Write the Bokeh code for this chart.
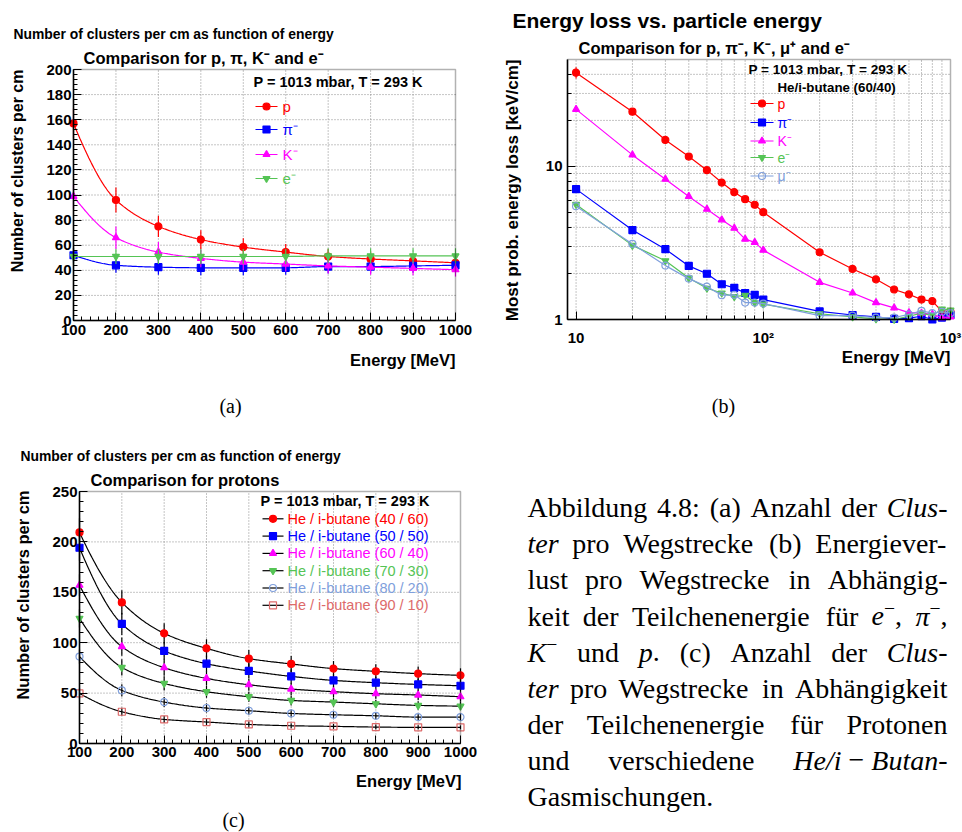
import numpy as np
from bokeh.plotting import figure
from bokeh.models import (Range1d, Label, FixedTicker, SingleIntervalTicker, LinearAxis,
                          LogAxis, BoxAnnotation)
from bokeh.layouts import column, row
from bokeh.embed import file_html
from bokeh.resources import INLINE

# ---------------- data ----------------
# (a) number of clusters per cm vs energy, He/i-butane
energy_a = [100, 200, 300, 400, 500, 600, 700, 800, 900, 1000]
clusters_p = [157.0, 96.0, 75.0, 64.5, 58.5, 54.5, 51.0, 49.0, 47.5, 46.0]
clusters_pi = [52.0, 44.0, 42.5, 42.0, 42.0, 42.0, 43.0, 43.0, 43.5, 44.0]
clusters_K = [99.0, 66.0, 54.5, 49.5, 46.5, 45.0, 43.5, 42.5, 41.5, 40.5]
clusters_e = [51.0, 51.0, 51.0, 51.0, 51.0, 51.0, 51.5, 51.5, 51.5, 51.5]
err_p = [12, 10, 8.5, 7.5, 7, 6.5, 6, 6, 5.5, 5.5]
err_pi = [6, 6, 6, 6, 6, 5.5, 5.5, 5.5, 5.5, 5.5]
err_K = [10, 9, 8, 7, 6.5, 6, 6, 6, 5.5, 5.5]
err_e = [7, 6, 6, 6, 6, 6, 6, 6, 6, 6]

# (b) most probable energy loss vs energy (log-log)
energy_b = [10, 20, 30, 40, 50, 60, 70, 80, 90, 100, 200, 300, 400, 500, 600, 700, 800, 900, 1000]
dedx_p = [41.0, 22.8, 14.9, 11.6, 9.46, 7.85, 6.79, 6.11, 5.62, 5.03, 2.75, 2.14, 1.83, 1.57, 1.46, 1.35, 1.32, 1.13, 1.12]
dedx_p_err = [3.5, 1.0, 0.6, 0.4, 0.3, 0.25, 0.2, 0.2, 0.15, 0.15, 0.08, 0.06, 0.05, 0.04, 0.04, 0.04, 0.04, 0.03, 0.03]
dedx_pi = [7.11, 3.84, 2.88, 2.24, 1.99, 1.70, 1.61, 1.49, 1.45, 1.35, 1.13, 1.07, 1.04, 1.01, 1.02, 1.05, 1.0, 1.03, 1.07]
dedx_K = [23.6, 11.9, 8.26, 6.37, 5.26, 4.48, 3.95, 3.35, 3.19, 2.84, 1.75, 1.49, 1.29, 1.19, 1.11, 1.10, 1.08, 1.03, 1.04]
dedx_e = [5.65, 3.05, 2.42, 1.87, 1.60, 1.49, 1.41, 1.44, 1.29, 1.26, 1.09, 1.04, 1.01, 1.0, 1.05, 1.10, 1.06, 1.17, 1.15]
dedx_mu = [5.50, 3.12, 2.25, 1.85, 1.64, 1.44, 1.45, 1.29, 1.29, 1.27, 1.06, 1.06, 1.03, 1.03, 1.08, 1.14, 1.10, 1.12, 1.10]

# (c) number of clusters per cm for protons, several He/i-butane mixtures
energy_c = [100, 200, 300, 400, 500, 600, 700, 800, 900, 1000]
nc_40_60 = [209.4, 140.0, 109.3, 94.4, 84.2, 78.9, 74.3, 71.6, 69.3, 67.6]
nc_50_50 = [194.2, 118.7, 91.8, 79.2, 72.0, 66.6, 62.6, 60.3, 58.6, 57.3]
nc_60_40 = [157.0, 96.1, 75.2, 64.6, 58.3, 54.0, 51.4, 49.4, 48.1, 46.4]
nc_70_30 = [124.2, 75.5, 59.6, 51.4, 46.4, 42.7, 41.1, 39.4, 37.8, 37.1]
nc_80_20 = [86.2, 52.7, 41.1, 35.2, 32.5, 29.8, 28.5, 27.5, 26.2, 26.2]
nc_90_10 = [49.7, 31.5, 23.9, 21.3, 18.9, 17.6, 17.0, 16.3, 16.0, 16.0]
ec_40_60 = [14, 12, 10, 9, 8.5, 8, 7.5, 7, 7, 7]
ec_50_50 = [13, 11, 9, 8, 7.5, 7, 6.5, 6, 6, 6]
ec_60_40 = [11, 9, 8, 7, 6, 6, 5.5, 5, 5, 5]
ec_70_30 = [9, 8, 7, 6, 5, 5, 4.5, 4, 4, 4]
ec_80_20 = [7, 6, 5, 4.5, 4, 4, 3.5, 3.5, 3, 3]
ec_90_10 = [5, 4, 3.5, 3, 3, 2.5, 2.5, 2.5, 2, 2]

FONT = "Liberation Sans"
SERIF = "Liberation Serif"
RED, BLUE, MAG, GRN, LBLUE, SALMON = "#ff0000", "#0000ff", "#ff00ff", "#55c455", "#7f9fdc", "#dd6a6a"
GRID = "#8a8a8a"


def pchip(x, y, n=300):
    """Shape-preserving cubic through the points (used only to draw smooth fit lines)."""
    x = np.asarray(x, float)
    y = np.asarray(y, float)
    h = np.diff(x)
    d = np.diff(y) / h
    m = np.zeros_like(y)
    for k in range(1, len(x) - 1):
        if d[k - 1] * d[k] > 0:
            w1 = 2 * h[k] + h[k - 1]
            w2 = h[k] + 2 * h[k - 1]
            m[k] = (w1 + w2) / (w1 / d[k - 1] + w2 / d[k])

    def endslope(h0, h1, d0, d1):
        s = ((2 * h0 + h1) * d0 - h0 * d1) / (h0 + h1)
        if np.sign(s) != np.sign(d0):
            s = 0.0
        elif np.sign(d0) != np.sign(d1) and abs(s) > abs(3 * d0):
            s = 3 * d0
        return s

    m[0] = endslope(h[0], h[1], d[0], d[1])
    m[-1] = endslope(h[-1], h[-2], d[-1], d[-2])
    xs = np.linspace(x[0], x[-1], n)
    idx = np.clip(np.searchsorted(x, xs) - 1, 0, len(x) - 2)
    t = (xs - x[idx]) / h[idx]
    h00 = 2 * t**3 - 3 * t**2 + 1
    h10 = t**3 - 2 * t**2 + t
    h01 = -2 * t**3 + 3 * t**2
    h11 = t**3 - t**2
    ys = h00 * y[idx] + h10 * h[idx] * m[idx] + h01 * y[idx + 1] + h11 * h[idx] * m[idx + 1]
    return xs, ys


def make_conv(L, R, T, B, xr, yr, xlog=False, ylog=False):
    X0, X1 = (np.log10(xr[0]), np.log10(xr[1])) if xlog else xr
    Y0, Y1 = (np.log10(yr[0]), np.log10(yr[1])) if ylog else yr

    def conv(px, py):
        gx = X0 + (px - L) / (R - L) * (X1 - X0)
        gy = Y0 + (B - py) / (B - T) * (Y1 - Y0)
        return (10**gx if xlog else gx), (10**gy if ylog else gy)
    return conv


def style_axis(ax, standoff):
    ax.axis_line_color = "black"
    ax.axis_line_width = 1.5
    ax.major_tick_in = 8
    ax.major_tick_out = 0
    ax.minor_tick_in = 4
    ax.minor_tick_out = 0
    ax.major_tick_line_color = "black"
    ax.minor_tick_line_color = "black"
    ax.major_label_text_font = FONT
    ax.major_label_text_font_style = "bold"
    ax.major_label_text_font_size = "15px"
    ax.major_label_text_color = "black"
    ax.major_label_standoff = standoff


def make_panel(w, h, L, R, T, B, xr, yr, xticker, yticker, xstand, ystand,
               grid_x, grid_y, xlog=False, ylog=False, x_over=None, y_over=None):
    """Figure whose frame is the whole canvas; the plot box [xr]x[yr] sits inside it."""
    conv = make_conv(L, R, T, B, xr, yr, xlog, ylog)
    x0, y0 = conv(0, h)
    x1, y1 = conv(w, 0)
    p = figure(width=w, height=h, x_range=Range1d(x0, x1), y_range=Range1d(y0, y1),
               x_axis_type="log" if xlog else "linear",
               y_axis_type="log" if ylog else "linear",
               x_axis_location=None, y_axis_location=None,
               output_backend="svg", toolbar_location=None,
               min_border_left=0, min_border_right=0, min_border_top=0, min_border_bottom=0)
    p.outline_line_color = None
    p.background_fill_color = "white"
    p.border_fill_color = "white"
    p.xgrid.visible = False
    p.ygrid.visible = False
    # dotted grid inside the box
    p.segment(x0=grid_x, y0=[yr[0]] * len(grid_x), x1=grid_x, y1=[yr[1]] * len(grid_x),
              line_color=GRID, line_dash="1 2", line_width=1)
    p.segment(x0=[xr[0]] * len(grid_y), y0=grid_y, x1=[xr[1]] * len(grid_y), y1=grid_y,
              line_color=GRID, line_dash="1 2", line_width=1)
    xa = (LogAxis if xlog else LinearAxis)(fixed_location=yr[0], bounds=xr, ticker=xticker)
    ya = (LogAxis if ylog else LinearAxis)(fixed_location=xr[0], bounds=yr, ticker=yticker)
    style_axis(xa, xstand)
    style_axis(ya, ystand)
    if x_over:
        xa.major_label_overrides = x_over
    if y_over:
        ya.major_label_overrides = y_over
    p.add_layout(xa, "below")
    p.add_layout(ya, "left")
    p.add_layout(BoxAnnotation(left=xr[0], right=xr[1], bottom=yr[0], top=yr[1],
                               fill_color=None, line_color="black", line_width=1.5))
    return p, conv


def put(p, conv, px, py, text, size, color="black", style="bold", align="left",
        baseline="middle", angle=0.0, font=FONT):
    x, y = conv(px, py)
    p.add_layout(Label(x=x, y=y, text=text, text_font=font, text_font_size=f"{size}px",
                       text_font_style=style, text_color=color, text_align=align,
                       text_baseline=baseline, angle=angle))


def legend_row(p, conv, x0, x1, py, marker, color, label, lx, size,
               line_color=None, hollow=False):
    ax0, ay = conv(x0, py)
    ax1, _ = conv(x1, py)
    mx, _ = conv((x0 + x1) / 2.0, py)
    p.line([ax0, ax1], [ay, ay], color=line_color or color, line_width=1.2)
    p.scatter([mx], [ay], marker=marker, size=7, line_color=color,
              fill_color=None if hollow else color, line_width=1.2)
    put(p, conv, lx, py, label, size, color=color, style="normal")


def draw_series(p, xs, vals, errs, color, marker, curve=None, hollow=False, err_color=None,
                smooth=True):
    v = np.asarray(vals, float)
    e = np.asarray(errs, float)
    if smooth:
        cx, cy = pchip(xs, vals)
        p.line(cx, cy, color=curve or color, line_width=1.2)
    else:
        p.line(xs, vals, color=curve or color, line_width=1.2)
    p.segment(x0=xs, y0=v - e, x1=xs, y1=v + e, color=err_color or color, line_width=1.2)
    p.scatter(xs, vals, marker=marker, size=7, line_color=color,
              fill_color=None if hollow else color, line_width=1.2)


# ====================== (a) ======================
WA, HTOP = 485, 440
fa, ca = make_panel(WA, HTOP, 73, 455, 69, 320, (100, 1000), (0, 200),
                    SingleIntervalTicker(interval=100, num_minor_ticks=5),
                    SingleIntervalTicker(interval=20, num_minor_ticks=5), 4, 2,
                    list(range(200, 1000, 100)), list(range(20, 200, 20)))

draw_series(fa, energy_a, clusters_p, err_p, RED, "circle")
draw_series(fa, energy_a, clusters_pi, err_pi, BLUE, "square")
draw_series(fa, energy_a, clusters_K, err_K, MAG, "triangle")
draw_series(fa, energy_a, clusters_e, err_e, GRN, "inverted_triangle")

put(fa, ca, 13, 33, "Number of clusters per cm as function of energy", 13.9)
put(fa, ca, 83, 57, "Comparison for p, π, K⁻ and e⁻", 16.5)
put(fa, ca, 253, 81, "P = 1013 mbar, T = 293 K", 14.5)
for py, mk, col, lab in [(106, "circle", RED, "p"), (129, "square", BLUE, "π⁻"),
                         (154, "triangle", MAG, "K⁻"), (178, "inverted_triangle", GRN, "e⁻")]:
    legend_row(fa, ca, 255, 277, py, mk, col, lab, 282, 15)
put(fa, ca, 17, 69, "Number of clusters per cm", 16, align="right", angle=np.pi / 2)
put(fa, ca, 455, 359, "Energy [MeV]", 16.5, align="right")
put(fa, ca, 230, 405, "(a)", 20, style="normal", align="center", font=SERIF)

# ====================== (b) ======================
WB = 962 - WA
minor_x_b = [20, 30, 40, 50, 60, 70, 80, 90, 200, 300, 400, 500, 600, 700, 800, 900]
minor_y_b = [2, 3, 4, 5, 6, 7, 8, 9, 20, 30, 40]
fb, cb = make_panel(WB, HTOP, 82, 465, 59, 319, (9, 1000), (1, 50),
                    FixedTicker(ticks=[10, 100, 1000], minor_ticks=minor_x_b),
                    FixedTicker(ticks=[1, 10], minor_ticks=minor_y_b), 9, 5,
                    [10] + minor_x_b[:8] + [100] + minor_x_b[8:],
                    minor_y_b[:8] + [10] + minor_y_b[8:],
                    xlog=True, ylog=True,
                    x_over={10: "10", 100: "10²", 1000: "10³"}, y_over={1: "1", 10: "10"})

zeros_b = [0] * len(energy_b)
draw_series(fb, energy_b, dedx_p, dedx_p_err, RED, "circle", smooth=False)
draw_series(fb, energy_b, dedx_pi, zeros_b, BLUE, "square", smooth=False)
draw_series(fb, energy_b, dedx_K, zeros_b, MAG, "triangle", smooth=False)
draw_series(fb, energy_b, dedx_e, zeros_b, GRN, "inverted_triangle", smooth=False)
draw_series(fb, energy_b, dedx_mu, zeros_b, LBLUE, "circle", hollow=True, smooth=False)

put(fb, cb, 27, 20, "Energy loss vs. particle energy", 21)
put(fb, cb, 93, 47, "Comparison for p, π⁻, K⁻, μ⁺ and e⁻", 16.5)
put(fb, cb, 263, 69, "P = 1013 mbar, T = 293 K", 13.6)
put(fb, cb, 292, 87, "He/i-butane (60/40)", 13.3)
for py, mk, col, lab, hol in [(103, "circle", RED, "p", False), (122, "square", BLUE, "π⁻", False),
                              (140.5, "triangle", MAG, "K⁻", False),
                              (157, "inverted_triangle", GRN, "e⁻", False),
                              (175.5, "circle", LBLUE, "μ⁻", True)]:
    legend_row(fb, cb, 265, 288, py, mk, col, lab, 292, 14, hollow=hol)
put(fb, cb, 27, 59, "Most prob. energy loss [keV/cm]", 17, align="right", angle=np.pi / 2)
put(fb, cb, 465, 357, "Energy [MeV]", 17, align="right")
put(fb, cb, 238, 405, "(b)", 20, style="normal", align="center", font=SERIF)

# ====================== (c) ======================
HBOT = 832 - HTOP
fc, cc = make_panel(WA, HBOT, 79, 460, 51, 303, (100, 1000), (0, 250),
                    SingleIntervalTicker(interval=100, num_minor_ticks=5),
                    SingleIntervalTicker(interval=50, num_minor_ticks=5), 3, 2,
                    list(range(200, 1000, 100)), list(range(50, 250, 50)))

series_c = [
    (nc_40_60, ec_40_60, RED, "circle", False, "He / i-butane (40 / 60)"),
    (nc_50_50, ec_50_50, BLUE, "square", False, "He / i-butane (50 / 50)"),
    (nc_60_40, ec_60_40, MAG, "triangle", False, "He / i-butane (60 / 40)"),
    (nc_70_30, ec_70_30, GRN, "inverted_triangle", False, "He / i-butane (70 / 30)"),
    (nc_80_20, ec_80_20, LBLUE, "circle", True, "He / i-butane (80 / 20)"),
    (nc_90_10, ec_90_10, SALMON, "square", True, "He / i-butane (90 / 10)"),
]
for vals, errs, col, mk, hol, lab in series_c:
    draw_series(fc, energy_c, vals, errs, col, mk, curve="black", hollow=hol, err_color="black")

put(fc, cc, 20, 15, "Number of clusters per cm as function of energy", 13.9)
put(fc, cc, 90, 39, "Comparison for protons", 16.5)
put(fc, cc, 260, 60.7, "P = 1013 mbar, T = 293 K", 14.5)
for i, (vals, errs, col, mk, hol, lab) in enumerate(series_c):
    legend_row(fc, cc, 262, 283, 78.3 + 17.3 * i, mk, col, lab, 287, 14.5,
               line_color="black", hollow=hol)
put(fc, cc, 22, 50, "Number of clusters per cm", 16.5, align="right", angle=np.pi / 2)
put(fc, cc, 461, 340, "Energy [MeV]", 16.5, align="right")
put(fc, cc, 233, 379, "(c)", 20, style="normal", align="center", font=SERIF)

# ====================== caption ======================
fd = figure(width=WB, height=HBOT, x_range=Range1d(0, WB), y_range=Range1d(HBOT, 0),
            output_backend="svg", toolbar_location=None,
            x_axis_location=None, y_axis_location=None,
            min_border_left=0, min_border_right=0, min_border_top=0, min_border_bottom=0)
fd.outline_line_color = None
fd.background_fill_color = "white"
fd.border_fill_color = "white"
fd.xgrid.visible = False
fd.ygrid.visible = False


def ident(px, py):
    return px, py


ROM = {' ': .25, '(': .333, ')': .333, ',': .25, '-': .333, '.': .25, '/': .278, ':': .278,
       'A': .722, 'G': .722, 'P': .556, 'T': .611, 'W': .944, 'E': .611,
       'a': .444, 'b': .5, 'c': .444, 'd': .5, 'e': .444, 'f': .333, 'g': .5, 'h': .5,
       'i': .278, 'k': .5, 'l': .278, 'm': .778, 'n': .5, 'o': .5, 'p': .5, 'r': .333,
       's': .389, 't': .278, 'u': .5, 'v': .5, 'w': .722, 'z': .444, 'ä': .444, 'ü': .5,
       '−': .564}
for dch in "0123456789":
    ROM[dch] = .5
ITA = {'C': .667, 'H': .722, 'K': .667, 'B': .611, 'l': .278, 'u': .5, 's': .389, 't': .278,
       'e': .444, 'r': .389, 'p': .5, 'i': .278, '/': .278, 'a': .5, 'n': .5, 'π': .5}
CS = 28.0


def seg_w(text, st):
    if st == "G":                      # fixed math space, text holds its width in em
        return float(text) * CS
    tab = ITA if st == "I" else ROM
    f = 0.7 if st == "S" else 1.0
    return sum(tab.get(ch, 0.5) for ch in text) * CS * f


def W(t):
    return [(t, "R")]


caption = [
    ([W("Abbildung"), W("4.8:"), W("(a)"), W("Anzahl"), W("der"), [("Clus", "I"), ("-", "R")]], True),
    ([[("ter", "I")], W("pro"), W("Wegstrecke"), W("(b)"), W("Energiever-")], True),
    ([W("lust"), W("pro"), W("Wegstrecke"), W("in"), W("Abhängig-")], True),
    ([W("keit"), W("der"), W("Teilchenenergie"), W("für"),
      [("e", "I"), ("−", "S"), (",", "R")], [("π", "I"), ("−", "S"), (",", "R")]], True),
    ([[("K", "I"), ("−", "S")], W("und"), [("p", "I"), (".", "R")], W("(c)"), W("Anzahl"),
      W("der"), [("Clus", "I"), ("-", "R")]], True),
    ([[("ter", "I")], W("pro"), W("Wegstrecke"), W("in"), W("Abhängigkeit")], True),
    ([W("der"), W("Teilchenenergie"), W("für"), W("Protonen")], True),
    ([W("und"), W("verschiedene"),
      [("He/i", "I"), ("0.25", "G"), ("−", "R"), ("0.25", "G"), ("Butan", "I"), ("-", "R")]], True),
    ([W("Gasmischungen.")], False),
]
XL, XR, MID0, LEAD = 42.0, 462.0, 67.2, 36.1
for i, (tokens, justify) in enumerate(caption):
    ym = MID0 + LEAD * i
    widths = [sum(seg_w(t, s) for t, s in tok) for tok in tokens]
    if justify and len(tokens) > 1:
        gap = (XR - XL - sum(widths)) / (len(tokens) - 1)
    else:
        gap = 0.25 * CS
    x = XL
    for tok, w in zip(tokens, widths):
        cx = x
        for t, s in tok:
            if s == "S":
                put(fd, ident, cx, ym - 0.26 * CS, t, CS * 0.7, style="normal", font=SERIF)
            elif s != "G":
                put(fd, ident, cx, ym, t, CS, style="italic" if s == "I" else "normal",
                    font=SERIF)
            cx += seg_w(t, s)
        x += w + gap

layout = column(row(fa, fb), row(fc, fd))
open("out.html", "w").write(file_html(layout, INLINE))
